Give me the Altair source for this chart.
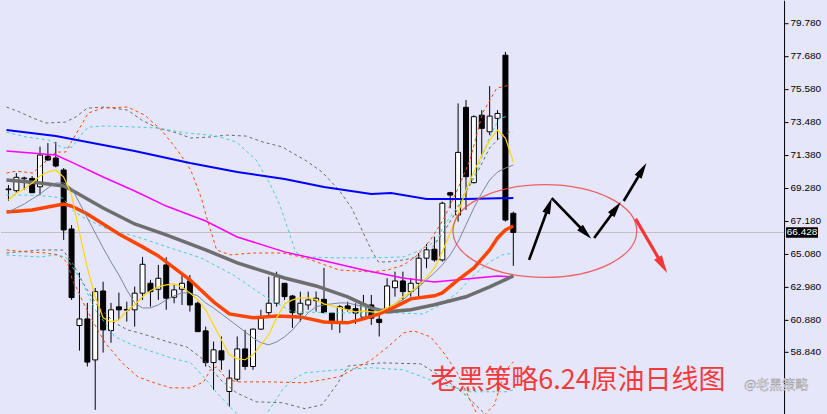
import altair as alt
import pandas as pd
import math

# ---------------- data ----------------
OPEN = [69.15, 69.09, 69.85, 69.87, 69.34, 71.29, 71.17, 70.41, 66.65, 60.50,
        60.92, 58.31, 62.70, 60.18, 61.69, 61.52, 61.50, 62.56, 63.19, 62.81,
        64.36, 62.30, 62.81, 63.34, 61.92, 60.16, 58.14, 58.89, 56.30, 57.08,
        59.01, 57.89, 60.27, 61.32, 61.92, 63.19, 62.38, 61.24, 61.81, 62.09,
        62.17, 61.29, 60.75, 61.75, 61.58, 61.03, 61.81, 60.90, 61.50, 62.91,
        63.34, 62.66, 63.19, 64.79, 65.36, 64.68, 68.96, 67.54, 74.40, 69.60,
        73.90, 72.84, 73.70, 77.72, 67.65]
HIGH = [69.45, 70.21, 69.98, 70.02, 71.89, 72.12, 72.20, 70.53, 66.90, 63.87,
        61.94, 62.89, 63.29, 61.94, 62.60, 62.02, 62.98, 64.87, 63.41, 64.36,
        64.85, 63.08, 63.72, 63.72, 62.02, 60.43, 59.48, 59.80, 57.68, 59.80,
        60.22, 60.30, 61.50, 63.61, 63.93, 63.21, 62.45, 62.66, 62.66, 62.66,
        64.17, 61.35, 61.81, 62.02, 61.92, 62.45, 62.45, 61.39, 63.51, 63.93,
        63.93, 63.53, 65.12, 65.69, 66.16, 68.39, 69.02, 74.65, 74.86, 73.90,
        74.22, 75.75, 74.22, 77.93, 67.75]
LOW = [68.45, 68.94, 69.13, 68.94, 68.81, 71.01, 70.57, 65.95, 62.13, 58.90,
       57.89, 55.13, 58.78, 59.40, 60.86, 60.75, 60.43, 62.13, 61.70, 62.13,
       61.50, 61.92, 61.81, 61.39, 60.11, 57.89, 56.40, 57.68, 55.34, 56.93,
       57.68, 57.68, 60.22, 61.07, 61.70, 62.13, 60.35, 60.75, 61.50, 61.39,
       61.29, 60.22, 60.03, 61.39, 60.60, 60.90, 60.54, 59.80, 61.39, 62.34,
       62.13, 62.34, 62.24, 64.15, 64.57, 64.57, 67.97, 67.12, 67.86, 69.55,
       71.36, 72.63, 72.31, 67.12, 64.30]
CLOSE = [69.20, 69.94, 69.90, 68.96, 71.36, 71.04, 70.66, 66.59, 62.28, 60.92,
         58.17, 62.66, 60.22, 61.50, 61.50, 61.48, 62.56, 64.40, 62.66, 63.51,
         62.24, 62.77, 63.19, 61.81, 60.11, 58.14, 58.95, 58.31, 57.15, 59.01,
         57.89, 60.27, 60.97, 61.92, 63.61, 62.34, 61.32, 61.92, 62.13, 62.24,
         61.32, 60.75, 61.70, 61.54, 61.29, 61.88, 60.97, 60.69, 63.02, 63.34,
         62.66, 63.19, 64.79, 65.32, 64.68, 68.29, 68.81, 71.53, 69.98, 73.80,
         73.06, 73.84, 74.01, 67.22, 66.43]

# fast MA (yellow) and short MA (thin slate gray), one value per candle
YELLOW = [68.50, 68.94, 69.20, 69.58, 70.02, 70.28, 70.41, 69.96, 68.81, 66.40,
          64.17, 62.33, 60.99, 60.73, 60.86, 61.43, 61.82, 62.33, 62.71, 62.96,
          63.09, 63.15, 62.96, 62.58, 62.13, 61.50, 60.54, 59.59, 58.63, 58.38,
          58.32, 58.63, 59.27, 59.91, 60.99, 61.88, 62.13, 62.26, 62.26, 62.13,
          61.88, 61.75, 61.62, 61.50, 61.37, 61.43, 61.37, 61.37, 61.62, 61.88,
          62.33, 62.64, 63.09, 63.53, 64.17, 65.19, 66.40, 67.67, 69.13, 70.28,
          71.36, 72.31, 72.95, 72.44, 70.91]
SLATE = [67.73, 67.99, 68.24, 68.56, 68.88, 69.26, 69.58, 69.58, 69.26, 68.31,
         67.35, 66.40, 65.44, 64.55, 63.72, 62.77, 61.94, 61.62, 61.62, 61.82,
         62.13, 62.39, 62.58, 62.58, 62.39, 61.94, 61.62, 61.24, 60.86, 60.48,
         60.10, 59.71, 59.40, 59.27, 59.46, 59.78, 60.22, 60.80, 61.31, 61.69,
         61.82, 61.88, 61.94, 61.94, 61.82, 61.69, 61.56, 61.50, 61.62, 61.88,
         62.13, 62.58, 62.96, 63.41, 63.85, 64.36, 65.00, 65.82, 66.91, 67.99,
         68.94, 69.77, 70.28, 70.53, 70.72]

BLUE_I = [-0.25, 6, 16, 23, 29, 35, 40, 46, 48.5, 53, 58, 64]
BLUE_V = [72.95, 72.57, 71.62, 70.85, 70.28, 69.83, 69.32, 68.88, 68.94, 68.56, 68.56, 68.62]

MAG_I = [-0.25, 6, 8, 12, 16, 20, 25, 29, 35, 40, 45, 50, 54, 58, 62, 64]
MAG_V = [71.62, 71.36, 70.91, 69.96, 69.07, 68.11, 67.16, 66.14, 65.19, 64.62,
         64.04, 63.53, 63.28, 63.47, 63.66, 63.60]

GRAYMA_I = [-0.25, 4, 7, 8, 10, 12, 16, 20, 25, 29, 33, 35, 39, 43, 46, 48, 51, 54, 58, 61, 64]
GRAYMA_V = [69.77, 69.58, 69.39, 69.13, 68.56, 67.99, 66.97, 66.27, 65.32, 64.49,
            63.85, 63.53, 63.02, 62.33, 61.62, 61.37, 61.50, 61.82, 62.33, 62.96, 63.66]

RED_I = [-0.25, 3, 5, 7, 8, 10, 12, 14, 17, 19, 23, 26, 28, 31, 34, 37, 40, 43, 45,
         47, 49, 51, 54, 55, 57, 59, 61, 62, 63, 64]
RED_V = [67.73, 67.86, 68.05, 68.24, 68.11, 67.61, 66.97, 66.33, 65.51, 64.93,
         63.41, 62.01, 61.24, 60.99, 61.11, 61.05, 60.73, 60.67, 60.92, 61.24,
         61.69, 62.20, 62.39, 62.58, 63.41, 64.17, 65.31, 66.08, 66.59, 66.84]

# envelopes / bands (dashed)
OU_I = [-0.25, 1, 3.1, 6, 7.25, 8.1, 9.4, 10.1, 11.9, 15.1, 17.25, 19.4, 21.4, 23.1,
        24.4, 25.4, 26.4, 28.1, 31, 34.75, 37.6, 41.9, 46, 48.1, 50.1, 51.9, 53.5,
        55.1, 56.9, 58.5, 60.1, 61.9, 63.5]
OU_V = [70.21, 70.34, 70.21, 71.55, 71.55, 72.31, 73.40, 74.03, 74.35, 74.42, 73.91,
        72.95, 71.68, 70.41, 68.69, 66.91, 65.31, 65.00, 65.12, 65.12, 64.81, 64.04,
        63.91, 64.04, 64.36, 65.00, 65.95, 67.22, 69.13, 71.04, 74.03, 75.62, 75.81]
OL_I = [-0.25, 2.25, 4.75, 6.4, 7.5, 8.1, 8.75, 9.5, 10.6, 12.25, 14.4, 16.4, 18.5,
        20.6, 23.1, 24.75, 25.6, 26.4, 27.5, 28.9, 33.1, 37.6, 41.9, 46, 48.1, 50.1,
        51.4, 53.5, 55.1, 56.9, 58.5, 59.75, 61.6, 62.9, 64]
OL_V = [65.31, 65.19, 65.12, 65.00, 64.49, 63.41, 62.77, 61.94, 60.86, 59.40, 58.13,
        57.23, 56.85, 56.53, 56.53, 56.91, 57.68, 57.87, 57.17, 56.91, 56.91, 56.85,
        57.23, 58.31, 59.14, 60.03, 60.16, 59.78, 58.82, 57.49, 55.77, 54.50, 55.45,
        57.55, 58.19]

CU_I = [-0.25, 2.25, 5.1, 6.9, 8.1, 9.4, 10.1, 12.25, 16.4, 18.9, 22.6, 25.6, 27.25,
        28.9, 31.4, 33.1, 34.4, 35.6, 36.4, 37.6, 41.9, 46, 50.1, 52.25, 54.4, 55.1,
        56.9, 59.4, 61, 62.25, 63.5]
CU_V = [72.82, 72.51, 72.32, 71.81, 71.87, 72.76, 73.14, 73.21, 73.14, 73.08, 72.76,
        72.63, 72.44, 72.19, 71.04, 69.58, 68.18, 66.40, 65.19, 64.87, 64.81, 64.81,
        64.87, 65.31, 65.95, 66.78, 68.05, 70.41, 72.51, 73.72, 73.84]
CM_I = [-0.25, 2.25, 4.75, 6.9, 8.1, 9.4, 12.25, 16.4, 20.1, 24.4, 28.5, 32.6, 36,
        42.25, 48.9, 52.6, 54.75, 56.9, 58.9, 61, 62.6, 64]
CM_V = [68.81, 68.81, 68.75, 68.62, 67.86, 67.41, 66.71, 66.14, 65.51, 64.81, 63.72,
        62.32, 61.37, 61.31, 61.31, 61.24, 61.82, 62.58, 63.66, 64.55, 65.00, 65.12]
CL_I = [-0.25, 3.9, 6, 7.25, 8.1, 9.4, 11, 12.25, 13.5, 15.1, 16.4, 20.6, 23.1, 24.75,
        26.4, 28.1, 29.75, 32, 33.5, 34.75, 36, 37.6, 41.9, 46, 50.1, 54.4, 58.5,
        60.6, 63.1, 64]
CL_V = [64.99, 64.87, 64.99, 64.87, 64.23, 63.21, 61.50, 60.67, 59.78, 59.40, 59.14,
        58.44, 58.12, 57.23, 56.22, 55.32, 54.50, 54.37, 55.45, 56.41, 57.04, 57.49,
        57.68, 57.81, 57.68, 56.85, 56.28, 56.28, 56.28, 56.40]

GU_I = [-0.25, 1.4, 3.1, 4.75, 7.25, 8.5, 10, 12.25, 15.1, 16.9, 18.9, 21.4, 23.1,
        25.6, 27.6, 30.1, 32.25, 34.75, 36, 37.6, 39.75, 41.9, 43.5, 44.4, 46, 46.9,
        48.1, 50.1, 51.9, 53.5, 55.1, 56.9, 57.6, 59.4, 61, 62.6, 63.9]
GU_V = [74.42, 74.10, 73.72, 73.40, 73.46, 73.78, 74.35, 74.42, 74.22, 73.59, 73.08,
        72.76, 72.44, 72.51, 72.63, 72.57, 72.19, 71.87, 71.49, 71.04, 70.28, 69.13,
        67.99, 67.03, 65.31, 64.55, 64.55, 64.68, 64.87, 65.31, 66.40, 67.86, 68.69,
        70.21, 71.81, 72.63, 72.89]
GL_I = [-0.25, 3.9, 6.9, 8.1, 9.75, 11.4, 13.5, 15.1, 16.6, 20.6, 22.6, 24.75, 26.9,
        28.9, 31.4, 34.75, 37.6, 39.75, 41.6, 43.1, 47.25, 52.25, 55.1, 57.9, 60.1, 62.25]
GL_V = [65.12, 65.31, 65.31, 64.49, 62.96, 61.69, 60.67, 60.22, 60.03, 59.40, 59.14,
        58.31, 57.04, 56.21, 55.64, 55.58, 55.20, 55.45, 56.72, 57.93, 58.12, 58.06,
        57.17, 56.09, 55.01, 54.18]

TICKS = [79.78, 77.68, 75.58, 73.48, 71.38, 69.28, 67.18, 65.08, 62.98, 60.88, 58.84]
CURRENT = 66.428

# annotations (bar index / price)
ELLIPSE_I, ELLIPSE_P = [68.0], [66.52]
ARROW_FROM_I = [66.0, 68.875, 74.25, 78.0, 79.5]
ARROW_FROM_P = [64.68, 68.62, 66.08, 68.43, 67.29]
ARROW_TO_I = [68.875, 73.875, 77.625, 80.875, 83.5]
ARROW_TO_P = [68.62, 66.02, 68.37, 70.85, 63.85]
ARROW_KIND = ["black", "black", "black", "black", "red"]
TITLE = "老黑策略6.24原油日线图"
WATERMARK = "@老黑策略"

# ---------------- chart ----------------
W, H = 784, 414
XD = [-0.3125, 97.6875]
YD = [54.88, 81.22]
PX_X = W / (XD[1] - XD[0])
PX_Y = H / (YD[1] - YD[0])

xs = alt.Scale(domain=XD, nice=False, zero=False)
ys = alt.Scale(domain=YD, nice=False, zero=False)
yaxis = alt.Axis(orient="right", values=TICKS, format=".3f", title=None, grid=False,
                 labelFont="Liberation Sans", labelFontSize=10, labelColor="black",
                 tickColor="black", tickSize=4, domainColor="black", domainWidth=1,
                 labelPadding=2, minExtent=43, maxExtent=43, labelOverlap=False)


def X(f):
    return alt.X(f, type="quantitative", scale=xs, axis=None)


def Y(f):
    return alt.Y(f, type="quantitative", scale=ys, axis=yaxis)


cdf = pd.DataFrame({"i": range(len(OPEN)), "o": OPEN, "h": HIGH, "l": LOW, "c": CLOSE})

layers = []
layers.append(alt.Chart(pd.DataFrame({"p": [CURRENT]})).mark_rule(
    color="#c0c0c0", strokeWidth=1).encode(y=Y("p")))

wick = alt.Chart(cdf).mark_rule(color="black", strokeWidth=1).encode(
    x=X("i"), y=Y("l"), y2=alt.Y2("h"))
body = alt.Chart(cdf).mark_bar(size=5, stroke="black", strokeWidth=1).encode(
    x=X("i"), y=Y("o"), y2=alt.Y2("c"),
    fill=alt.condition("datum.c >= datum.o", alt.value("white"), alt.value("black")))
layers += [wick, body]


def line(ii, vv, color, width, dash=None):
    df = pd.DataFrame({"i": ii, "v": vv})
    kw = dict(color=color, strokeWidth=width, clip=True)
    if dash:
        kw["strokeDash"] = dash
    return alt.Chart(df).mark_line(**kw).encode(x=X("i"), y=Y("v"))


idx = list(range(len(OPEN)))
layers += [
    line(GU_I, GU_V, "#696969", 1, [3, 3]),
    line(GL_I, GL_V, "#696969", 1, [3, 3]),
    line(CU_I, CU_V, "#40d0d0", 1, [3, 3]),
    line(CM_I, CM_V, "#40d0d0", 1, [3, 3]),
    line(CL_I, CL_V, "#40d0d0", 1, [3, 3]),
    line(OU_I, OU_V, "#ff4500", 1, [3, 3]),
    line(OL_I, OL_V, "#ff4500", 1, [3, 3]),
    line(BLUE_I, BLUE_V, "#0000ff", 2),
    line(MAG_I, MAG_V, "#ff00ff", 1.5),
    line(GRAYMA_I, GRAYMA_V, "#6e6e6e", 3.5),
    line(RED_I, RED_V, "#ff4500", 3.5),
    line(idx, SLATE, "#778899", 1),
    line(idx, YELLOW, "#ffd700", 1.2),
]

# ellipse
ell_path = ("M1,0C1,0.279,0.552,0.505,0,0.505C-0.552,0.505,-1,0.279,-1,0"
            "C-1,-0.279,-0.552,-0.505,0,-0.505C0.552,-0.505,1,-0.279,1,0Z")
layers.append(alt.Chart(pd.DataFrame({"i": ELLIPSE_I, "p": ELLIPSE_P})).mark_point(
    shape=ell_path, size=184 ** 2, filled=False, stroke="#ee4a4a", strokeWidth=1.3,
    opacity=0.85).encode(x=X("i"), y=Y("p")))

# arrows
rows = []
for a, b, c, d, k in zip(ARROW_FROM_I, ARROW_FROM_P, ARROW_TO_I, ARROW_TO_P, ARROW_KIND):
    dx = (c - a) * PX_X
    dy = -(d - b) * PX_Y
    L = math.hypot(dx, dy)
    head = 18 if k == "red" else 16
    f = (L - head * 0.6) / L
    rows.append(dict(i0=a, p0=b, i1=a + (c - a) * f, p1=b + (d - b) * f, ti=c, tp=d,
                     ang=math.degrees(math.atan2(dx, -dy)), k=k,
                     sz=head ** 2, sw=3.2 if k == "red" else 2.6))
adf = pd.DataFrame(rows)
col = alt.Color("k:N", scale=alt.Scale(domain=["black", "red"], range=["#000000", "#f53535"]),
                legend=None)
layers.append(alt.Chart(adf).mark_rule(strokeCap="butt").encode(
    x=X("i0"), y=Y("p0"), x2=alt.X2("i1"), y2=alt.Y2("p1"), color=col,
    strokeWidth=alt.StrokeWidth("sw:Q", scale=None)))
layers.append(alt.Chart(adf).mark_point(
    shape="M0,0L0.5,2L-0.5,2Z", filled=True, opacity=1).encode(
    x=X("ti"), y=Y("tp"), angle=alt.Angle("ang:Q", scale=None), color=col, fill=col,
    size=alt.Size("sz:Q", scale=None)))

# current price box on the axis
box_path = "M-1,-0.33L1,-0.33L1,0.33L-1,0.33Z"
cp = pd.DataFrame({"p": [CURRENT], "t": [f"{CURRENT:.3f}"]})
layers.append(alt.Chart(cp).mark_point(shape=box_path, size=32 ** 2, filled=True,
                                       color="black", opacity=1).encode(
    x=alt.value(802), y=Y("p")))
layers.append(alt.Chart(cp).mark_text(font="Liberation Sans", fontSize=10, color="white",
                                      align="center", baseline="middle").encode(
    x=alt.value(802), y=Y("p"), text="t:N"))

# texts
layers.append(alt.Chart(pd.DataFrame({"t": [TITLE]})).mark_text(
    font="Noto Sans CJK SC", fontSize=27, color="#f23a3a", align="left",
    baseline="middle").encode(x=alt.value(430), y=alt.value(381), text="t:N"))
layers.append(alt.Chart(pd.DataFrame({"t": [WATERMARK]})).mark_text(
    font="Noto Sans CJK SC", fontSize=13, color="#ffffff", stroke="#9a9a9a",
    strokeWidth=0.5, align="left", baseline="middle").encode(
    x=alt.value(744), y=alt.value(385), text="t:N"))

chart = alt.layer(*layers).properties(
    width=W, height=H, background="#e6e6fa", padding=0,
    autosize=alt.AutoSizeParams(type="pad")
).configure_view(stroke=None)

chart.save("out.html", embed_options={"renderer": "svg", "actions": False})
